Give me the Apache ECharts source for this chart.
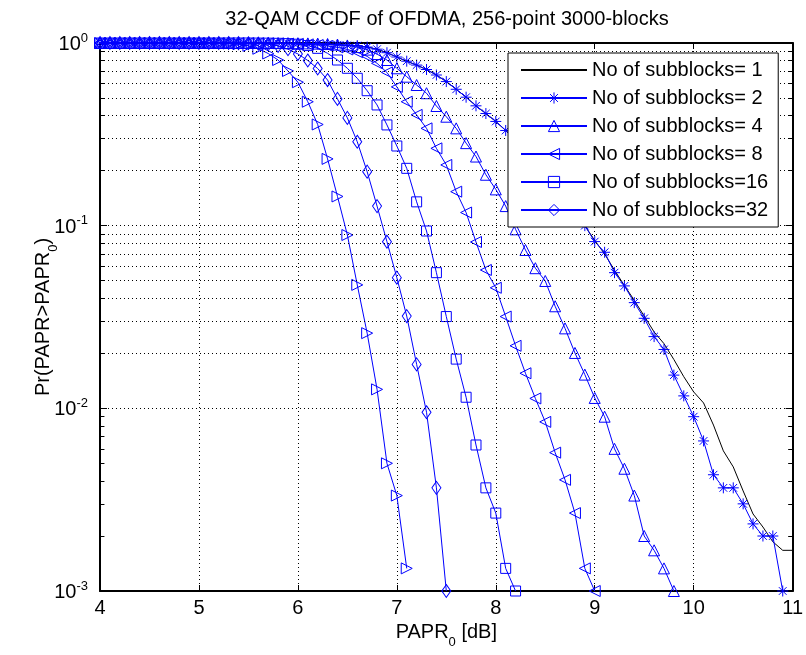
<!DOCTYPE html>
<html>
<head>
<meta charset="utf-8">
<title>32-QAM CCDF of OFDMA</title>
<script src="https://cdn.jsdelivr.net/npm/echarts@6/dist/echarts.min.js"></script>
<style>
html, body { margin: 0; padding: 0; background: #fff; }
#chart { width: 806px; height: 655px; }
</style>
</head>
<body>
<div id="chart"></div>
<script>
/* data */
var paprDb = [4.0, 4.1, 4.2, 4.3, 4.4, 4.5, 4.6, 4.7, 4.8, 4.9,
              5.0, 5.1, 5.2, 5.3, 5.4, 5.5, 5.6, 5.7, 5.8, 5.9,
              6.0, 6.1, 6.2, 6.3, 6.4, 6.5, 6.6, 6.7, 6.8, 6.9,
              7.0, 7.1, 7.2, 7.3, 7.4, 7.5, 7.6, 7.7, 7.8, 7.9,
              8.0, 8.1, 8.2, 8.3, 8.4, 8.5, 8.6, 8.7, 8.8, 8.9,
              9.0, 9.1, 9.2, 9.3, 9.4, 9.5, 9.6, 9.7, 9.8, 9.9,
              10.0, 10.1, 10.2, 10.3, 10.4, 10.5, 10.6, 10.7, 10.8, 10.9,
              11.0];

var seriesNames = ['No of subblocks= 1', 'No of subblocks= 2', 'No of subblocks= 4',
                   'No of subblocks= 8', 'No of subblocks=16', 'No of subblocks=32',
                   'No of subblocks=64'];

// 1 subblock (black line), 4.0 .. 11.0
var ccdf1 = [1, 1, 1, 1, 1, 1, 1, 1, 1, 1,
             1, 1, 1, 1, 1, 0.999, 0.999, 0.998, 0.997, 0.996,
             0.995, 0.992, 0.989, 0.984, 0.978, 0.971, 0.968, 0.950, 0.925, 0.885,
             0.838, 0.795, 0.757, 0.716, 0.668, 0.615, 0.558, 0.505, 0.453, 0.411,
             0.372, 0.332, 0.295, 0.260, 0.226, 0.196, 0.168, 0.143, 0.121, 0.100,
             0.083, 0.070, 0.057, 0.047, 0.039, 0.032, 0.0262, 0.0226, 0.0185, 0.0149,
             0.0123, 0.0107, 0.0081, 0.00585, 0.00478, 0.00353, 0.00264, 0.00224, 0.00186, 0.00167,
             0.00167];
// 2 subblocks, 4.0 .. 10.9
var ccdf2 = [1, 1, 1, 1, 1, 1, 1, 1, 1, 1,
             1, 1, 1, 1, 1, 0.999, 0.999, 0.998, 0.997, 0.996,
             0.995, 0.992, 0.989, 0.984, 0.978, 0.971, 0.968, 0.950, 0.925, 0.885,
             0.838, 0.795, 0.757, 0.716, 0.668, 0.615, 0.558, 0.505, 0.453, 0.411,
             0.372, 0.332, 0.295, 0.260, 0.226, 0.196, 0.168, 0.143, 0.121, 0.100,
             0.0818, 0.0715, 0.0553, 0.0468, 0.0379, 0.0311, 0.0247, 0.0210, 0.0152, 0.0117,
             0.0090, 0.00663, 0.00433, 0.00367, 0.00367, 0.0030, 0.00233, 0.0020, 0.0020, 0.0010];
// 4 subblocks, 4.0 .. 9.8
var ccdf4 = [1, 1, 1, 1, 1, 1, 1, 1, 1, 1,
             1, 1, 1, 1, 1, 1, 1, 1, 0.999, 0.998,
             0.997, 0.995, 0.992, 0.987, 0.980, 0.968, 0.950, 0.920, 0.870, 0.807,
             0.727, 0.654, 0.589, 0.531, 0.452, 0.395, 0.341, 0.283, 0.239, 0.190,
             0.158, 0.128, 0.0955, 0.0736, 0.0585, 0.0498, 0.0362, 0.0274, 0.0201, 0.0153,
             0.0114, 0.0090, 0.0060, 0.00467, 0.00333, 0.0020, 0.00167, 0.00133, 0.0010];
// 8 subblocks, 4.0 .. 9.0
var ccdf8 = [1, 1, 1, 1, 1, 1, 1, 1, 1, 1,
             1, 1, 1, 1, 1, 1, 0.999, 0.998, 0.996, 0.993,
             0.989, 0.983, 0.975, 0.963, 0.946, 0.922, 0.890, 0.845, 0.774, 0.690,
             0.575, 0.477, 0.404, 0.341, 0.265, 0.215, 0.1535, 0.118, 0.0814, 0.0572,
             0.0457, 0.0318, 0.0220, 0.01556, 0.01133, 0.00843, 0.00572, 0.00406, 0.00267, 0.00133,
             0.0010];
// 16 subblocks, 4.0 .. 8.2
var ccdf16 = [1, 1, 1, 1, 1, 1, 1, 1, 1, 1,
              1, 1, 1, 1, 1, 1, 0.999, 0.998, 0.996, 0.992,
              0.985, 0.968, 0.935, 0.878, 0.807, 0.727, 0.641, 0.548, 0.458, 0.356,
              0.273, 0.206, 0.135, 0.0935, 0.0553, 0.0318, 0.0186, 0.0115, 0.0063, 0.00367,
              0.00267, 0.00133, 0.0010];
// 32 subblocks, 4.0 .. 7.5
var ccdf32 = [1, 1, 1, 1, 1, 1, 1, 1, 1, 1,
              1, 1, 1, 1, 0.999, 0.997, 0.993, 0.985, 0.965, 0.925,
              0.871, 0.802, 0.725, 0.627, 0.494, 0.389, 0.288, 0.1975, 0.128, 0.0817,
              0.0519, 0.032, 0.0174, 0.00952, 0.00367, 0.0010];
// 64 subblocks (not in legend), 4.0 .. 7.1
var ccdf64 = [1, 1, 1, 1, 1, 1, 1, 1, 1, 1,
              1, 0.999, 0.997, 0.993, 0.985, 0.965, 0.930, 0.876, 0.807, 0.703,
              0.610, 0.477, 0.358, 0.232, 0.1445, 0.0889, 0.0474, 0.0258, 0.0127, 0.0050,
              0.00333, 0.00133];

var minorGridY = [0.002, 0.003, 0.004, 0.005, 0.006, 0.007, 0.008, 0.009,
                  0.02, 0.03, 0.04, 0.05, 0.06, 0.07, 0.08, 0.09,
                  0.2, 0.3, 0.4, 0.5, 0.6, 0.7, 0.8, 0.9];

var FONT = "'Liberation Sans', Arial, Helvetica, sans-serif";
var BLUE = '#0000ff';
var DOTS = [1, 3];

// marker shapes (MATLAB-like, unfilled)
var SYM_STAR = 'path://M5 0L5 10M0 5L10 5M1.5 1.5L8.5 8.5M8.5 1.5L1.5 8.5';
var SYM_UP = 'path://M5 0L10 10L0 10Z';
var SYM_LEFT = 'path://M0 5L10 0L10 10Z';
var SYM_RIGHT = 'path://M10 5L0 0L0 10Z';

function pairs(ys) {
    return ys.map(function (v, i) { return [paprDb[i], v]; });
}

function blueSeries(name, ys, symbol, size) {
    return {
        name: name,
        type: 'line',
        data: pairs(ys),
        symbol: symbol,
        symbolSize: size,
        showSymbol: true,
        clip: false,
        lineStyle: { color: BLUE, width: 1 },
        itemStyle: { color: 'none', borderColor: BLUE, borderWidth: 1 },
        emphasis: { disabled: true },
        z: 3
    };
}

// small inward minor ticks on the left and right frame (log axis has no usable minor ticks)
var minorTickSegs = [];
minorGridY.forEach(function (v) {
    minorTickSegs.push([{ coord: [4, v] }, { coord: [4.045, v] }]);
    minorTickSegs.push([{ coord: [10.955, v] }, { coord: [11, v] }]);
});

var chart = echarts.init(document.getElementById('chart'));

var legendData = seriesNames.slice(0, 6).map(function (n, i) {
    return i === 0 ? { name: n, itemStyle: { color: 'none', borderWidth: 0, opacity: 0 } } : { name: n };
});

var option = {
    animation: false,
    backgroundColor: '#fff',
    title: {
        text: '32-QAM CCDF of OFDMA, 256-point 3000-blocks',
        left: 447,
        top: 9,
        padding: 0,
        textAlign: 'center',
        textStyle: { fontSize: 20, fontWeight: 'normal', color: '#000', fontFamily: FONT }
    },
    grid: {
        left: 100, right: 11, top: 43, bottom: 64,
        show: true, borderColor: '#000', borderWidth: 1, backgroundColor: '#fff'
    },
    legend: {
        data: legendData,
        orient: 'vertical',
        left: 508,
        top: 53,
        itemWidth: 66,
        itemHeight: 14,
        itemGap: 8,
        padding: [7, 10, 7, 12],
        backgroundColor: '#fff',
        borderColor: '#000',
        borderWidth: 1,
        itemStyle: { borderWidth: 1 },
        textStyle: { fontSize: 20, color: '#000', fontFamily: FONT, lineHeight: 20 },
        selectedMode: false,
        z: 10
    },
    xAxis: [{
        type: 'value', min: 4, max: 11, interval: 1, position: 'bottom',
        axisLine: { show: true, onZero: false, lineStyle: { color: '#000', width: 2 } },
        axisTick: { show: true, inside: true, length: 6, lineStyle: { color: '#000' } },
        axisLabel: { margin: 7, fontSize: 20, color: '#000', fontFamily: FONT },
        splitLine: { show: true, lineStyle: { type: DOTS, color: '#000', width: 1 } },
        name: '{b|PAPR}{sub|0}{b| [dB]}',
        nameLocation: 'middle',
        nameGap: 31,
        nameMoveOverlap: false,
        nameTextStyle: {
            color: '#000', fontFamily: FONT, fontSize: 20,
            rich: {
                b: { fontSize: 20, fontFamily: FONT, color: '#000', verticalAlign: 'top' },
                sub: { fontSize: 13, fontFamily: FONT, color: '#000', verticalAlign: 'top', padding: [14, 0, 0, 0] }
            }
        }
    }, {
        type: 'value', min: 4, max: 11, interval: 1, position: 'top',
        axisLine: { show: true, onZero: false, lineStyle: { color: '#000', width: 2 } },
        axisTick: { show: true, inside: true, length: 6, lineStyle: { color: '#000' } },
        axisLabel: { show: false },
        splitLine: { show: false }
    }],
    yAxis: [{
        type: 'log', logBase: 10, min: 0.001, max: 1, position: 'left',
        axisLine: { show: true, onZero: false, lineStyle: { color: '#000', width: 2 } },
        axisTick: { show: true, inside: true, length: 7, lineStyle: { color: '#000' } },
        axisLabel: {
            margin: 12, color: '#000', fontFamily: FONT,
            formatter: function (v) {
                var e = Math.round(Math.log(v) / Math.LN10);
                return '{b|10}{sup|' + e + '}';
            },
            rich: {
                b: { fontSize: 20, fontFamily: FONT, color: '#000', verticalAlign: 'bottom' },
                sup: { fontSize: 13, fontFamily: FONT, color: '#000', verticalAlign: 'top', padding: [0, 0, 10, 0] }
            }
        },
        splitLine: { show: true, lineStyle: { type: DOTS, color: '#000', width: 1 } },
        name: '{b|Pr(PAPR>PAPR}{sub|0}{b|)}',
        nameLocation: 'middle',
        nameGap: 40,
        nameMoveOverlap: false,
        nameTextStyle: {
            color: '#000', fontFamily: FONT, fontSize: 20,
            rich: {
                b: { fontSize: 20, fontFamily: FONT, color: '#000', verticalAlign: 'top' },
                sub: { fontSize: 13, fontFamily: FONT, color: '#000', verticalAlign: 'top', padding: [14, 0, 0, 0] }
            }
        }
    }, {
        type: 'log', logBase: 10, min: 0.001, max: 1, position: 'right',
        axisLine: { show: true, onZero: false, lineStyle: { color: '#000', width: 2 } },
        axisTick: { show: true, inside: true, length: 7, lineStyle: { color: '#000' } },
        axisLabel: { show: false },
        splitLine: { show: false }
    }],
    series: [
        {
            name: seriesNames[0],
            type: 'line',
            data: pairs(ccdf1),
            symbol: 'none',
            clip: true,
            lineStyle: { color: '#000', width: 1 },
            itemStyle: { color: 'none', borderWidth: 0 },
            emphasis: { disabled: true },
            z: 2,
            markLine: {
                silent: true,
                symbol: ['none', 'none'],
                label: { show: false },
                emphasis: { disabled: true },
                lineStyle: { type: DOTS, color: '#000', width: 1 },
                data: minorGridY.map(function (v) { return { yAxis: v }; })
            }
        },
        (function () {
            var s = blueSeries(seriesNames[1], ccdf2, SYM_STAR, 11);
            s.markLine = {
                silent: true,
                symbol: ['none', 'none'],
                label: { show: false },
                emphasis: { disabled: true },
                lineStyle: { type: 'solid', color: '#000', width: 1 },
                data: minorTickSegs
            };
            return s;
        })(),
        blueSeries(seriesNames[2], ccdf4, SYM_UP, 11),
        blueSeries(seriesNames[3], ccdf8, SYM_LEFT, 11),
        blueSeries(seriesNames[4], ccdf16, 'rect', 10),
        blueSeries(seriesNames[5], ccdf32, 'diamond', [9, 13]),
        blueSeries(seriesNames[6], ccdf64, SYM_RIGHT, 11)
    ]
};

chart.setOption(option);
</script>
</body>
</html>
